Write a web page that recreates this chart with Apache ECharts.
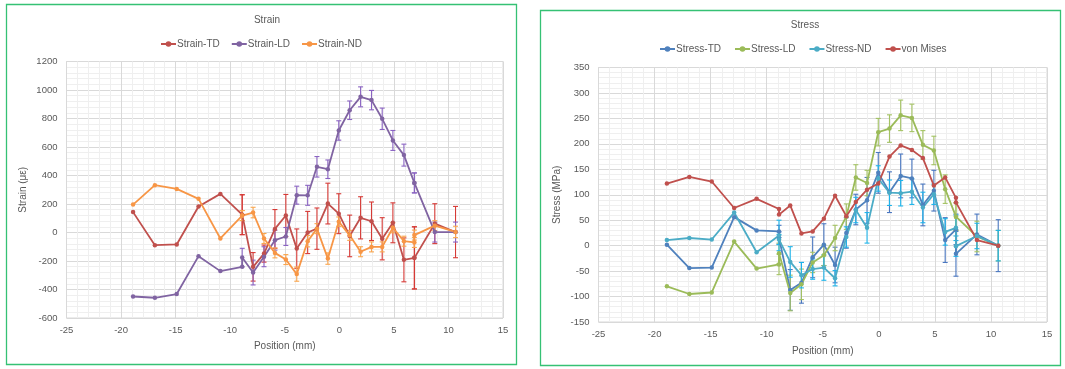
<!DOCTYPE html>
<html>
<head>
<meta charset="utf-8">
<script src="https://cdn.jsdelivr.net/npm/echarts@6/dist/echarts.min.js"></script>
<style>
html, body { margin: 0; padding: 0; background: #fff; }
#chart { width: 1065px; height: 369px; }
</style>
</head>
<body>
<div id="chart"></div>
<script>
// Measurement positions along the weld line (mm); -9 and 7 were measured twice
const positionMm = [-18.9, -16.9, -14.9, -12.9, -10.9, -8.9, -8.9, -7.9, -6.9, -5.9, -4.9, -3.9, -2.9,
  -2.05, -1.05, -0.05, 0.95, 1.95, 2.95, 3.93, 4.91, 5.92, 6.88, 6.88, 8.75, 10.65];

// Strain (microstrain) and error-bar half widths
const strainTD = [143, -89, -84, 182, 271, 125, 125, -241, -148, 25, 119, -113, 0, 27, 203, 132, -24, 103, 79, -44, 68, -192, -178, -178, 62, 3];
const strainTDErr = [null, null, null, null, null, 140, 140, 100, 60, 136, 148, 138, 148, 145, 143, 140, 146, 148, 135, 148, 140, 154, 218, 218, 140, 180];
const strainLD = [-449, -458, -432, -166, -271, -241, -176, -281, -170, -54, -28, 262, 261, 461, 444, 716, 858, 952, 929, 798, 646, 543, 348, 348, 3, 3];
const strainLDErr = [null, null, null, null, null, null, 65, 87, 70, 70, 63, 63, 70, 72, 65, 68, 65, 70, 68, 75, 70, 77, 70, 70, 70, 70];
const strainND = [196, 332, 306, 236, -42, 119, 119, 140, -42, -143, -190, -292, -61, 27, -183, 76, -20, -135, -101, -101, 33, -61, -70, -18, 48, 4];
const strainNDErr = [null, null, null, null, null, 35, 35, 37, 35, 35, 35, 50, 40, 35, 40, 33, 35, 35, 35, 35, 35, 35, 35, 35, 35, 40];

// Stress (MPa) and error-bar half widths
const stressTD = [2, -44, -43, 56, 30, 28, 15, -87, -73, -23, 2, -38, 25, 71, 89, 143, 105, 137, 132, 80, 108, 11, 32, -16, 22, 0];
const stressTDErr = [null, null, null, null, null, 12, 12, 40, 40, 40, 41, 35, 30, 30, 45, 40, 40, 43, 38, 41, 40, 44, 30, 44, 40, 51];
const stressLD = [-80, -95, -92, 8, -45, -37, -15, -93, -76, -33, -19, 15, 57, 134, 123, 223, 230, 256, 251, 198, 187, 111, 57, 57, 18, 0];
const stressLDErr = [null, null, null, null, null, 20, 20, 35, 30, 20, 20, 25, 25, 25, 25, 27, 27, 30, 27, 28, 28, 28, 27, 27, 30, 30];
const stressND = [11, 15, 12, 65, -13, 20, 12, -32, -58, -46, -43, -64, 17, 70, 35, 132, 104, 103, 106, 75, 101, 27, 35, -1, 19, 0];
const stressNDErr = [null, null, null, null, null, 30, 10, 30, 25, 20, 25, 15, 20, 25, 30, 25, 25, 25, 25, 30, 20, 26, 25, 20, 25, 30];
const vonMises = [122, 135, 126, 74, 92, 72, 61, 79, 24, 28, 53, 98, 58, 86, 110, 122, 175, 197, 188, 172, 118, 134, 94, 85, 11, 0];

// Axis ranges
const positionRange = { min: -25, max: 15, step: 5 };
const strainRange = { min: -600, max: 1200, step: 200 };
const stressRange = { min: -150, max: 350, step: 50 };

const FONT = '"Liberation Sans", Arial, sans-serif';
const TEXT = '#595959';

function lineSeries(name, values, color, idx) {
  return {
    name, type: 'line', xAxisIndex: idx, yAxisIndex: idx,
    data: positionMm.map((p, i) => [p, values[i]]),
    symbol: 'circle', symbolSize: 4.5, showSymbol: true,
    lineStyle: { width: 1.8, color }, itemStyle: { color },
    z: 3, animation: false
  };
}

function errorSeries(values, errs, color, idx) {
  const data = [];
  positionMm.forEach((p, i) => {
    if (errs[i] != null) data.push([p, values[i] - errs[i], values[i] + errs[i]]);
  });
  return {
    type: 'custom', xAxisIndex: idx, yAxisIndex: idx, z: 2, silent: true, animation: false,
    data, encode: { x: 0, y: [1, 2] },
    renderItem(params, api) {
      const x = api.value(0);
      const lo = api.coord([x, api.value(1)]);
      const hi = api.coord([x, api.value(2)]);
      const w = 2.5;
      const style = { stroke: color, lineWidth: 1.1 };
      return {
        type: 'group',
        children: [
          { type: 'line', shape: { x1: lo[0], y1: lo[1], x2: hi[0], y2: hi[1] }, style },
          { type: 'line', shape: { x1: lo[0] - w, y1: lo[1], x2: lo[0] + w, y2: lo[1] }, style },
          { type: 'line', shape: { x1: hi[0] - w, y1: hi[1], x2: hi[0] + w, y2: hi[1] }, style }
        ]
      };
    }
  };
}

function xAxisCfg(idx, gap) {
  return {
    type: 'value', gridIndex: idx, min: positionRange.min, max: positionRange.max, interval: positionRange.step,
    name: 'Position (mm)', nameLocation: 'middle', nameGap: gap,
    nameTextStyle: { color: TEXT, fontSize: 10, fontFamily: FONT },
    axisLine: { show: false }, axisTick: { show: false },
    axisLabel: { color: TEXT, fontSize: 9.5, fontFamily: FONT, margin: 7, formatter: v => String(v) },
    splitLine: { show: true, lineStyle: { color: '#d9d9d9', width: 1 } },
    minorTick: { show: false, splitNumber: 5 },
    minorSplitLine: { show: true, lineStyle: { color: '#efefef', width: 1 } }
  };
}

function yAxisCfg(idx, range, name, gap) {
  return {
    type: 'value', gridIndex: idx, min: range.min, max: range.max, interval: range.step,
    name, nameLocation: 'middle', nameGap: gap, nameRotate: 90,
    nameTextStyle: { color: TEXT, fontSize: 10, fontFamily: FONT },
    axisLine: { show: false }, axisTick: { show: false },
    axisLabel: { color: TEXT, fontSize: 9.5, fontFamily: FONT, margin: 9, formatter: v => String(v) },
    splitLine: { show: true, lineStyle: { color: '#d9d9d9', width: 1 } },
    minorTick: { show: false, splitNumber: 5 },
    minorSplitLine: { show: true, lineStyle: { color: '#efefef', width: 1 } }
  };
}

const C = {
  sTD: '#c0504d', sLD: '#8064a2', sND: '#f79646',
  tTD: '#4f81bd', tLD: '#9bbb59', tND: '#4bacc6', vm: '#c0504d'
};

const legendText = { color: TEXT, fontSize: 10, fontFamily: FONT, padding: [0, 0, 0, -4] };

const chart = echarts.init(document.getElementById('chart'), null, { renderer: 'canvas' });
chart.setOption({
  animation: false,
  backgroundColor: '#fff',
  title: [
    { text: 'Strain', left: 262, top: 10, textAlign: 'center',
      textStyle: { color: TEXT, fontSize: 10, fontWeight: 'normal', fontFamily: FONT } },
    { text: 'Stress', left: 800, top: 15, textAlign: 'center',
      textStyle: { color: TEXT, fontSize: 10, fontWeight: 'normal', fontFamily: FONT } }
  ],
  legend: [
    { data: ['Strain-TD', 'Strain-LD', 'Strain-ND'], left: 155, top: 34, itemWidth: 15, itemHeight: 7, itemGap: 11,
      textStyle: legendText },
    { data: ['Stress-TD', 'Stress-LD', 'Stress-ND', 'von Mises'], left: 654, top: 39, itemWidth: 15, itemHeight: 7, itemGap: 13,
      textStyle: legendText }
  ],
  grid: [
    { left: 66.5, top: 61.5, width: 436.5, height: 256.5, show: true, borderColor: '#d9d9d9', borderWidth: 1, backgroundColor: 'transparent' },
    { left: 598.5, top: 67.5, width: 448.5, height: 254.5, show: true, borderColor: '#d9d9d9', borderWidth: 1, backgroundColor: 'transparent' }
  ],
  xAxis: [xAxisCfg(0, 23), xAxisCfg(1, 24)],
  yAxis: [yAxisCfg(0, strainRange, 'Strain (με)', 38), yAxisCfg(1, stressRange, 'Stress (MPa)', 36)],
  graphic: [
    { type: 'rect', shape: { x: 6.5, y: 4.5, width: 510, height: 360 }, style: { fill: 'none', stroke: '#35c174', lineWidth: 1.3 }, silent: true },
    { type: 'rect', shape: { x: 540.5, y: 10.5, width: 520, height: 355 }, style: { fill: 'none', stroke: '#35c174', lineWidth: 1.3 }, silent: true }
  ],
  series: [
    errorSeries(strainTD, strainTDErr, '#d63a36', 0),
    lineSeries('Strain-TD', strainTD, C.sTD, 0),
    errorSeries(strainLD, strainLDErr, '#8a63c2', 0),
    lineSeries('Strain-LD', strainLD, C.sLD, 0),
    errorSeries(strainND, strainNDErr, '#f9a64f', 0),
    lineSeries('Strain-ND', strainND, C.sND, 0),

    errorSeries(stressTD, stressTDErr, '#4a77c0', 1),
    lineSeries('Stress-TD', stressTD, C.tTD, 1),
    errorSeries(stressLD, stressLDErr, '#a3c262', 1),
    lineSeries('Stress-LD', stressLD, C.tLD, 1),
    errorSeries(stressND, stressNDErr, '#1eb4ea', 1),
    lineSeries('Stress-ND', stressND, C.tND, 1),
    lineSeries('von Mises', vonMises, C.vm, 1)
  ]
});
</script>
</body>
</html>
